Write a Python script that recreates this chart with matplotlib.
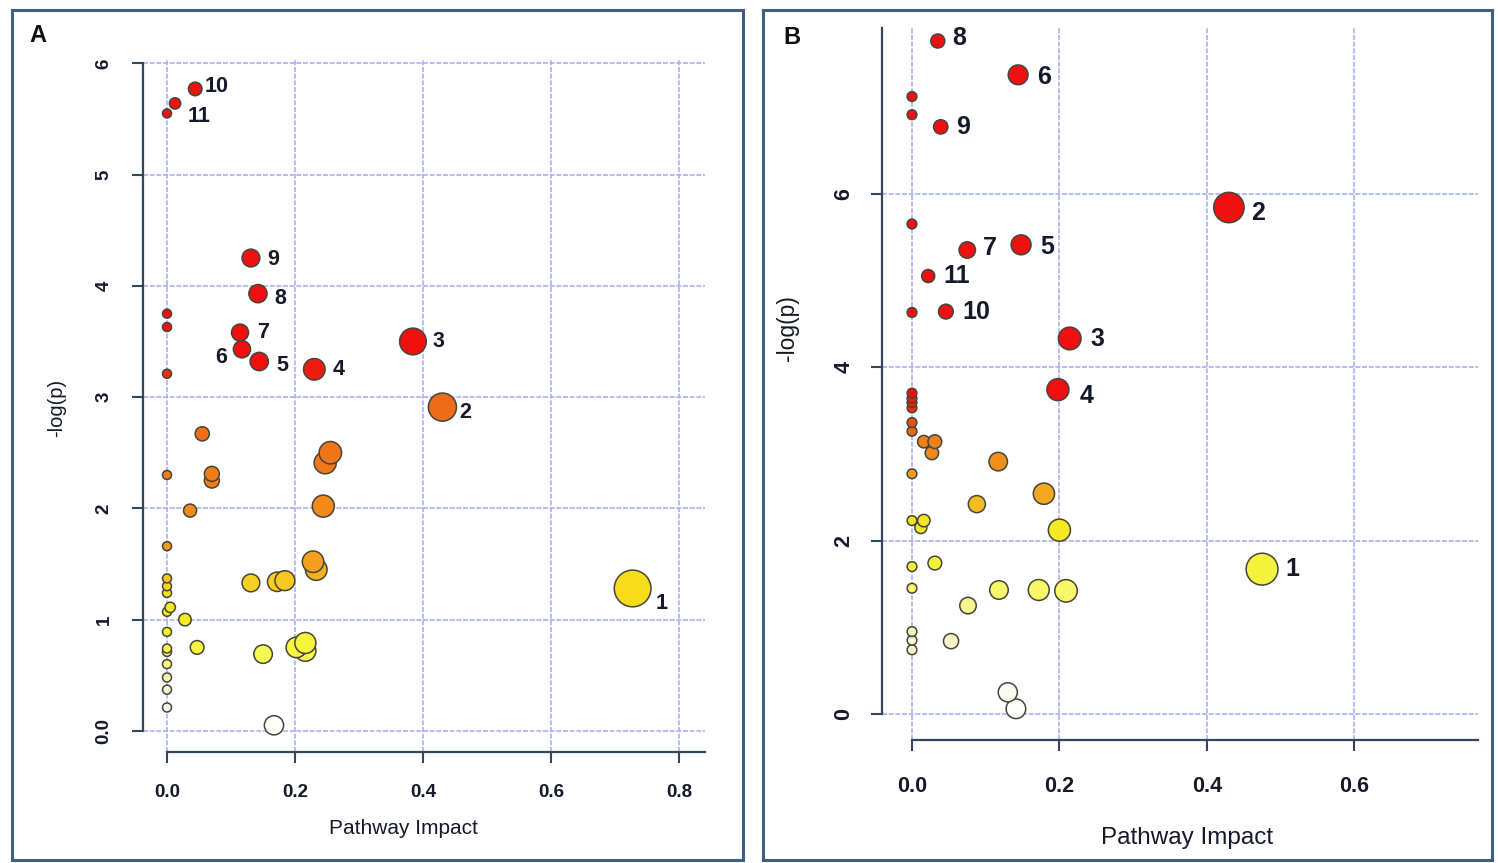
import matplotlib.pyplot as plt
from matplotlib.colors import LinearSegmentedColormap
from matplotlib.patches import Rectangle

plt.rcParams['font.family'] = ['Liberation Sans', 'DejaVu Sans']

# ---- panel A: pathway impact vs -log(p) ----
impact_a = [0.044, 0.0125, 0.0, 0.131, 0.142, 0.114, 0.117, 0.144, 0.230, 0.384, 0.430, 0.727,
            0.0, 0.0, 0.0, 0.055, 0.0, 0.07, 0.07, 0.036, 0.255, 0.247, 0.244, 0.0,
            0.228, 0.233, 0.131, 0.184, 0.172, 0.0, 0.0, 0.0, 0.005, 0.0, 0.028, 0.0,
            0.047, 0.0, 0.0, 0.0, 0.0, 0.0, 0.0, 0.15, 0.216, 0.202, 0.216, 0.167]
logp_a = [5.77, 5.64, 5.55, 4.25, 3.93, 3.58, 3.43, 3.32, 3.25, 3.50, 2.91, 1.28,
          3.75, 3.63, 3.21, 2.67, 2.30, 2.31, 2.25, 1.98, 2.50, 2.41, 2.02, 1.66,
          1.52, 1.45, 1.33, 1.35, 1.34, 1.37, 1.30, 1.24, 1.11, 1.07, 1.00, 0.89,
          0.75, 0.74, 0.71, 0.60, 0.48, 0.37, 0.21, 0.69, 0.79, 0.75, 0.72, 0.05]
names_a = ["10", "11", "", "9", "8", "7", "6", "5", "4", "3", "2", "1"] + [""] * 36

# ---- panel B ----
impact_b = [0.035, 0.144, 0.039, 0.430, 0.075, 0.148, 0.022, 0.046, 0.214, 0.198, 0.475,
            0.0, 0.0, 0.0, 0.0, 0.0, 0.0, 0.0, 0.0, 0.0, 0.0, 0.016, 0.031, 0.027,
            0.117, 0.0, 0.179, 0.088, 0.0, 0.016, 0.012, 0.200, 0.0, 0.031, 0.0,
            0.118, 0.172, 0.209, 0.076, 0.0, 0.0, 0.0, 0.053, 0.130, 0.141]
logp_b = [7.76, 7.37, 6.77, 5.84, 5.35, 5.41, 5.05, 4.64, 4.33, 3.74, 1.67,
          7.12, 6.91, 5.65, 4.63, 3.70, 3.64, 3.59, 3.53, 3.36, 3.26, 3.14, 3.14, 3.01,
          2.91, 2.77, 2.54, 2.42, 2.23, 2.23, 2.15, 2.12, 1.70, 1.74, 1.45,
          1.43, 1.43, 1.42, 1.25, 0.95, 0.85, 0.74, 0.84, 0.25, 0.06]
names_b = ["8", "6", "9", "2", "7", "5", "11", "10", "3", "4", "1"] + [""] * 34

# label offsets in pixels (dx, dy)
offs_a = {"10": (21, 2), "11": (24, -13), "9": (22, -1), "8": (22, -5), "7": (23, 0),
          "6": (-21, -8), "5": (23, -4), "4": (24, 0), "3": (26, 0), "2": (23, -5),
          "1": (29, -15)}
offs_b = {"8": (21, 3), "6": (26, -2), "9": (22, 0), "2": (29, -5), "7": (23, 2),
          "5": (26, -2), "11": (28, 0), "10": (30, 0), "3": (28, -1), "4": (29, -6),
          "1": (30, 0)}

heat_a = [(0.0, "#ffffff"), (0.25, "#fbfbe8"), (0.55, "#f8f8a0"), (0.7, "#f8f850"),
          (0.9, "#f4f020"), (1.2, "#f6e818"), (1.35, "#f8c820"), (1.5, "#f4a01c"),
          (2.0, "#f28a1c"), (2.6, "#f07018"), (2.95, "#ee6a18"), (3.15, "#e84010"),
          (3.3, "#f01010"), (8.0, "#f01010")]
heat_b = [(0.0, "#ffffff"), (0.3, "#fafaf0"), (0.85, "#f6f6c8"), (1.25, "#f6f690"),
          (1.45, "#f8f860"), (1.75, "#f4f030"), (2.2, "#f4e820"), (2.4, "#f4c020"),
          (2.55, "#f2a820"), (2.9, "#f0901c"), (3.15, "#f08018"), (3.3, "#e06018"),
          (3.5, "#e83010"), (3.7, "#f01010"), (8.0, "#f01010")]

fig = plt.figure(figsize=(14.98, 8.63), dpi=100)

spine_col = "#34465c"
grid_col = "#aab0f0"
txt_col = "#151a2a"


def panel(rect, xs, ys, names, offs, heat, xlim, ylim, ytop, yticks, ylabels,
          tick_fs, lab_fs, size_k, xpad, ypad):
    ax = fig.add_axes(rect)
    ax.set_xlim(*xlim)
    ax.set_ylim(*ylim)
    cmap = LinearSegmentedColormap.from_list("h", [(v / heat[-1][0], c) for v, c in heat])
    cols = [cmap(y / heat[-1][0]) for y in ys]
    r = [size_k * (4.5 + 9 * x ** 0.5 + 8.5 * x) for x in xs]
    s = [(2 * ri * 0.72) ** 2 for ri in r]
    order = sorted(range(len(xs)), key=lambda i: ys[i])
    ax.scatter([xs[i] for i in order], [ys[i] for i in order], s=[s[i] for i in order],
               c=[cols[i] for i in order], edgecolors="#45453a", linewidths=1.1,
               zorder=3, clip_on=False)
    for x, y, n in zip(xs, ys, names):
        if n:
            ax.annotate(n, (x, y), xytext=offs[n], textcoords="offset pixels",
                        ha="center", va="center", fontsize=lab_fs, fontweight="bold",
                        color=txt_col, zorder=4)
    for side in ["top", "right"]:
        ax.spines[side].set_visible(False)
    ax.spines["left"].set_bounds(0, ytop)
    ax.spines["bottom"].set_bounds(0, xlim[1])
    for side in ["left", "bottom"]:
        ax.spines[side].set_color(spine_col)
        ax.spines[side].set_linewidth(1.6)
    xt = [v / 10 for v in range(0, int(xlim[1] * 10) + 1, 2)]
    ax.set_xticks(xt)
    ax.set_xticklabels(["%.1f" % v for v in xt])
    ax.set_yticks(yticks)
    ax.set_yticklabels(ylabels, rotation=90, va="center")
    ax.tick_params(axis="x", length=8, width=1.5, color=spine_col, labelsize=tick_fs,
                   labelcolor=txt_col, pad=xpad)
    ax.tick_params(axis="y", length=8, width=1.5, color=spine_col, labelsize=tick_fs,
                   labelcolor=txt_col, pad=ypad)
    for t in ax.get_xticklabels() + ax.get_yticklabels():
        t.set_fontweight("bold")
    ax.grid(True, color=grid_col, lw=1.2, ls=(0, (3, 1)))
    ax.set_axisbelow(True)
    return ax


panel([143 / 1498, 1 - 752 / 863, 562 / 1498, 692 / 863], impact_a, logp_a, names_a,
      offs_a, heat_a, (-0.0375, 0.84), (-0.19, 6.03), 6.0, [0, 1, 2, 3, 4, 5, 6],
      ["0.0", "1", "2", "3", "4", "5", "6"], 13.5, 15.5, 1.0, 15, 14)
panel([882 / 1498, 1 - 740 / 863, 596 / 1498, 712 / 863], impact_b, logp_b, names_b,
      offs_b, heat_b, (-0.0407, 0.768), (-0.30, 7.91), 7.91, [0, 2, 4, 6],
      ["0", "2", "4", "6"], 15.5, 18, 1.08, 18, 12)

fig.text(403 / 1498, 1 - 828 / 863, "Pathway Impact", ha="center", va="center",
         fontsize=15, color=txt_col)
fig.text(1187 / 1498, 1 - 838 / 863, "Pathway Impact", ha="center", va="center",
         fontsize=17.5, color=txt_col)
fig.text(57 / 1498, 1 - 408 / 863, "-log(p)", ha="center", va="center", rotation=90,
         fontsize=14.5, color=txt_col)
fig.text(787 / 1498, 1 - 328 / 863, "-log(p)", ha="center", va="center", rotation=90,
         fontsize=16.5, color=txt_col)
fig.text(38 / 1498, 1 - 35 / 863, "A", ha="center", va="center", fontsize=17,
         fontweight="bold", color="#111111")
fig.text(792 / 1498, 1 - 37 / 863, "B", ha="center", va="center", fontsize=17,
         fontweight="bold", color="#111111")

for x0, x1 in [(12, 743), (763, 1492)]:
    fig.add_artist(Rectangle((x0 / 1498, 3 / 863), (x1 - x0) / 1498, 850 / 863,
                             transform=fig.transFigure, fill=False, ec="#3e5e82", lw=2.2))

fig.savefig("out.png", dpi=100)
